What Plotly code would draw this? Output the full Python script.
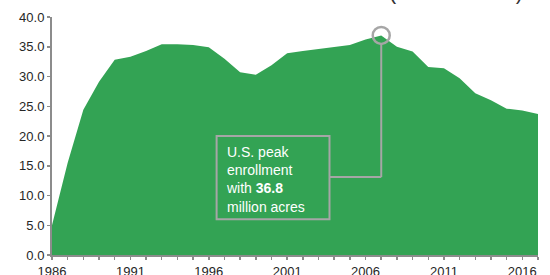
import plotly.graph_objects as go

years = list(range(1986, 2018))
enrollment = [5.0, 15.5, 24.4, 29.1, 32.8, 33.3, 34.3, 35.4, 35.4, 35.3,
              34.9, 33.0, 30.7, 30.3, 31.9, 33.9, 34.3, 34.6, 35.0, 35.3,
              36.2, 36.9, 35.0, 34.2, 31.6, 31.4, 29.7, 27.2, 26.0, 24.6,
              24.3, 23.7]
peak_year = 2007
peak_label = "36.8"
y_ticks = [0, 5, 10, 15, 20, 25, 30, 35, 40]
x_ticks = [1986, 1991, 1996, 2001, 2006, 2011, 2016]

GREEN = "#33A354"
GRAY = "#a6a6a6"
AXIS = "#8c8c8c"
FONT = "Liberation Sans, Arial, sans-serif"

peak_value = enrollment[years.index(peak_year)]

fig = go.Figure()
fig.add_trace(go.Scatter(x=years, y=enrollment, mode="lines", fill="tozeroy",
                         fillcolor=GREEN, line=dict(color=GREEN, width=0),
                         hoverinfo="skip", showlegend=False))
fig.add_trace(go.Scatter(x=[peak_year], y=[peak_value], mode="markers",
                         marker=dict(symbol="circle-open", size=17, color=GRAY,
                                     line=dict(width=2.5)),
                         hoverinfo="skip", showlegend=False))

# callout box and connector
fig.add_shape(type="rect", xref="x", yref="y", x0=1996.5, x1=2003.7, y0=6.0, y1=20.0,
              line=dict(color=GRAY, width=2), fillcolor="rgba(0,0,0,0)")
fig.add_shape(type="line", xref="x", yref="y", x0=2003.7, x1=peak_year, y0=13.1, y1=13.1,
              line=dict(color=GRAY, width=2))
fig.add_shape(type="line", xref="x", yref="y", x0=peak_year, x1=peak_year, y0=13.1, y1=35.3,
              line=dict(color=GRAY, width=2))

fig.add_annotation(x=1997.0, y=19.0, xref="x", yref="y", xanchor="left", yanchor="top",
                   align="left", showarrow=False,
                   text="U.S. peak<br>enrollment<br>with <b>" + peak_label + "</b><br>million acres",
                   font=dict(family=FONT, size=14, color="white"))

fig.add_annotation(x=0.832, y=1.047, xref="paper", yref="paper", xanchor="center",
                   yanchor="bottom", showarrow=False, text="(million acres)",
                   font=dict(family=FONT, size=21.5, color="#333333"))

fig.update_xaxes(range=[1986, 2017], tickmode="array", tickvals=x_ticks,
                 ticktext=[str(v) for v in x_ticks], automargin=False,
                 showline=True, linecolor=AXIS, linewidth=2, showgrid=False, zeroline=False,
                 ticks="outside", ticklen=3, tickwidth=1.5, tickcolor=AXIS,
                 minor=dict(dtick=1, tick0=1986, ticks="outside", ticklen=3, tickwidth=1.5,
                            tickcolor=AXIS, showgrid=False),
                 tickfont=dict(family=FONT, size=13, color="#262626"))
fig.update_yaxes(range=[0, 40], tickmode="array", tickvals=y_ticks,
                 ticktext=["%.1f" % v for v in y_ticks], automargin=False,
                 showline=True, linecolor=AXIS, linewidth=2, showgrid=False, zeroline=False,
                 ticks="outside", ticklen=3, tickwidth=1.5, tickcolor=AXIS,
                 tickfont=dict(family=FONT, size=13, color="#262626"))

fig.update_layout(width=550, height=275, margin=dict(l=52, r=12, t=17, b=20),
                  plot_bgcolor="white", paper_bgcolor="white", showlegend=False)

fig.write_html("out.html", config={"displayModeBar": False, "staticPlot": True},
               post_script="document.body.style.margin='0';document.body.style.overflow='hidden';")
